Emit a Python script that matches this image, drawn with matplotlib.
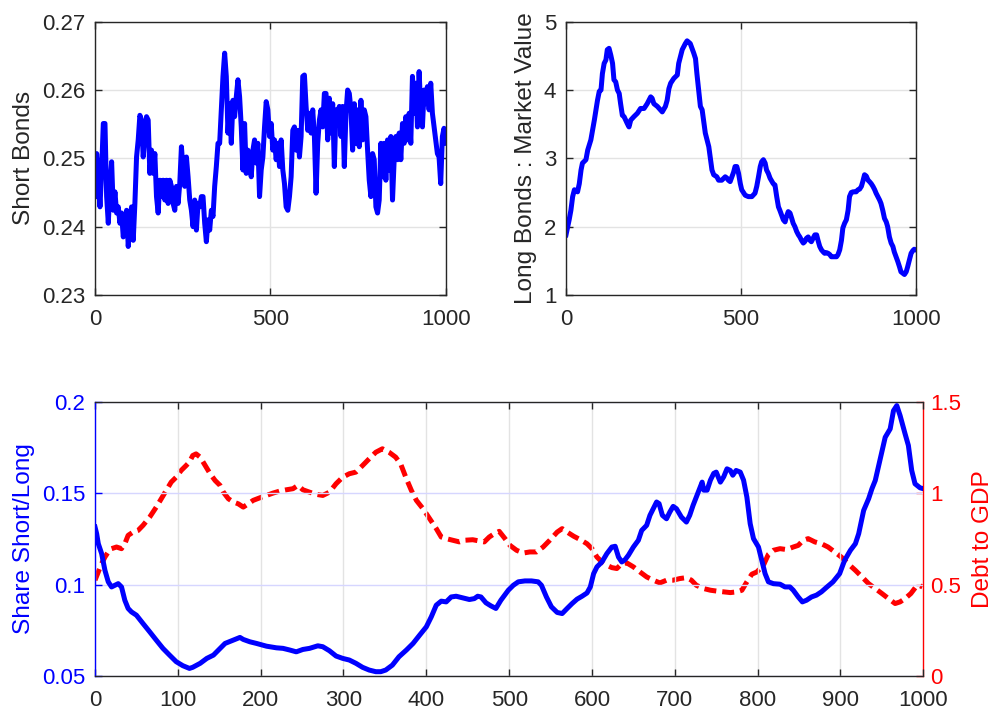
import numpy as np
import matplotlib
matplotlib.use("Agg")
import matplotlib.pyplot as plt

plt.rcParams['font.family'] = ['Liberation Sans', 'DejaVu Sans']

# ---------------- data ----------------
short_bonds = [
    0.2444, 0.2507, 0.2473, 0.2429, 0.2483, 0.2551, 0.2551, 0.2444, 0.2405, 0.2459,
    0.2495, 0.2424, 0.2451, 0.2420, 0.2429, 0.2405, 0.2420, 0.2385, 0.2400, 0.2424,
    0.2371, 0.2405, 0.2429, 0.2380, 0.2434, 0.2502, 0.2527, 0.2563, 0.2556, 0.2502,
    0.2532, 0.2561, 0.2556, 0.2478, 0.2512, 0.2478, 0.2507, 0.2444, 0.2420, 0.2468,
    0.2444, 0.2468, 0.2439, 0.2468, 0.2434, 0.2468, 0.2459, 0.2434, 0.2424, 0.2459,
    0.2434, 0.2463, 0.2517, 0.2483, 0.2459, 0.2502, 0.2473, 0.2439, 0.2424, 0.2400,
    0.2439, 0.2395, 0.2434, 0.2429, 0.2444, 0.2444, 0.2405, 0.2378, 0.2410, 0.2395,
    0.2424, 0.2415, 0.2459, 0.2488, 0.2522, 0.2522, 0.2571, 0.2620, 0.2654, 0.2620,
    0.2537, 0.2580, 0.2522, 0.2585, 0.2561, 0.2590, 0.2615, 0.2590, 0.2546, 0.2483,
    0.2551, 0.2478, 0.2512, 0.2493, 0.2473, 0.2512, 0.2527, 0.2493, 0.2522, 0.2444,
    0.2483, 0.2502, 0.2546, 0.2583, 0.2571, 0.2532, 0.2551, 0.2512, 0.2527, 0.2498,
    0.2522, 0.2488, 0.2527, 0.2483, 0.2463, 0.2429, 0.2424, 0.2444, 0.2473, 0.2541,
    0.2546, 0.2512, 0.2541, 0.2502, 0.2532, 0.2620, 0.2622, 0.2576, 0.2541, 0.2566,
    0.2537, 0.2571, 0.2532, 0.2449, 0.2522, 0.2556, 0.2571, 0.2546, 0.2595, 0.2595,
    0.2527, 0.2588, 0.2537, 0.2580, 0.2488, 0.2571, 0.2556, 0.2576, 0.2532, 0.2576,
    0.2488, 0.2566, 0.2600, 0.2595, 0.2571, 0.2512, 0.2580, 0.2522, 0.2571, 0.2517,
    0.2585, 0.2527, 0.2571, 0.2561, 0.2512, 0.2468, 0.2444, 0.2507, 0.2498, 0.2429,
    0.2420, 0.2439, 0.2522, 0.2473, 0.2522, 0.2468, 0.2527, 0.2483, 0.2532, 0.2439,
    0.2498, 0.2532, 0.2498, 0.2537, 0.2498, 0.2551, 0.2522, 0.2561, 0.2527, 0.2566,
    0.2522, 0.2620, 0.2566, 0.2610, 0.2546, 0.2627, 0.2571, 0.2546, 0.2600, 0.2580,
    0.2605, 0.2571, 0.2610, 0.2566, 0.2546, 0.2527, 0.2507, 0.2502, 0.2463, 0.2532,
    0.2544, 0.2522,
]
short_t = np.linspace(0, 1000, len(short_bonds))

long_t = [
    0, 9, 14, 19, 24, 33, 38, 43, 47, 57, 62, 71, 81, 90, 95, 100, 104, 109, 114, 118,
    123, 128, 133, 137, 142, 147, 152, 156, 161, 166, 175, 180, 185, 194, 204, 213, 223,
    232, 242, 246, 251, 261, 270, 275, 284, 289, 294, 299, 308, 318, 322, 327, 332, 341,
    346, 355, 360, 365, 370, 374, 379, 384, 389, 393, 398, 403, 408, 412, 417, 422, 431,
    436, 445, 455, 460, 464, 469, 474, 479, 483, 488, 493, 498, 502, 512, 521, 531, 540,
    545, 550, 555, 559, 564, 569, 573, 578, 583, 592, 597, 602, 607, 611, 616, 621, 626,
    630, 635, 640, 645, 649, 654, 659, 664, 668, 673, 678, 682, 687, 692, 697, 701, 706,
    711, 716, 720, 725, 730, 735, 739, 744, 749, 754, 758, 763, 768, 773, 777, 782, 787,
    791, 796, 801, 806, 810, 815, 820, 825, 829, 834, 839, 844, 848, 853, 858, 863, 867,
    872, 877, 882, 886, 891, 896, 900, 905, 910, 915, 919, 924, 929, 934, 938, 943, 948,
    953, 957, 962, 967, 972, 976, 981, 986, 991, 995, 1000,
]
long_bonds = [
    1.88, 2.10, 2.24, 2.44, 2.54, 2.51, 2.63, 2.83, 2.93, 2.98, 3.12, 3.27, 3.56, 3.85,
    3.98, 4.00, 4.24, 4.39, 4.44, 4.59, 4.61, 4.51, 4.39, 4.15, 4.12, 4.00, 3.95, 3.80,
    3.63, 3.61, 3.51, 3.46, 3.56, 3.61, 3.66, 3.73, 3.73, 3.80, 3.90, 3.88, 3.80, 3.76,
    3.71, 3.68, 3.76, 3.85, 4.02, 4.10, 4.17, 4.22, 4.39, 4.49, 4.59, 4.68, 4.72, 4.68,
    4.61, 4.54, 4.46, 4.24, 4.00, 3.76, 3.71, 3.56, 3.37, 3.27, 3.17, 3.02, 2.83, 2.76,
    2.73, 2.68, 2.68, 2.73, 2.71, 2.68, 2.66, 2.73, 2.80, 2.88, 2.88, 2.78, 2.63, 2.54,
    2.46, 2.44, 2.44, 2.49, 2.59, 2.73, 2.88, 2.95, 2.98, 2.93, 2.83, 2.78, 2.71, 2.63,
    2.61, 2.44, 2.29, 2.24, 2.17, 2.10, 2.07, 2.15, 2.22, 2.20, 2.12, 2.05, 2.00, 1.93,
    1.88, 1.85, 1.80, 1.76, 1.78, 1.83, 1.85, 1.80, 1.78, 1.83, 1.88, 1.88, 1.80, 1.71,
    1.66, 1.63, 1.61, 1.62, 1.61, 1.59, 1.56, 1.56, 1.56, 1.56, 1.59, 1.66, 1.80, 1.98,
    2.05, 2.10, 2.24, 2.44, 2.50, 2.51, 2.51, 2.51, 2.54, 2.55, 2.59, 2.66, 2.76, 2.74,
    2.68, 2.66, 2.63, 2.59, 2.54, 2.49, 2.44, 2.39, 2.34, 2.24, 2.12, 2.07, 2.00, 1.85,
    1.76, 1.71, 1.63, 1.56, 1.49, 1.41, 1.34, 1.32, 1.30, 1.34, 1.41, 1.51, 1.61, 1.65,
    1.67, 1.66,
]

share_t = [
    0, 2, 4, 8, 12, 16, 20, 24, 28, 32, 36, 40, 44, 50, 58, 66, 74, 82, 90, 98, 106,
    114, 118, 127, 135, 143, 151, 157, 167, 175, 179, 187, 195, 207, 219, 227, 235, 243,
    251, 259, 269, 275, 283, 291, 299, 307, 315, 323, 331, 339, 345, 351, 359, 367, 376,
    384, 392, 400, 406, 412, 418, 424, 430, 436, 444, 452, 458, 462, 466, 472, 478, 484,
    490, 499, 505, 511, 519, 527, 535, 539, 545, 551, 558, 564, 570, 576, 582, 588, 594,
    598, 602, 606, 612, 618, 624, 628, 632, 636, 640, 644, 650, 656, 660, 666, 670, 674,
    678, 681, 685, 690, 694, 698, 702, 708, 714, 718, 722, 726, 730, 733, 735, 739, 743,
    747, 750, 755, 759, 763, 767, 770, 774, 779, 783, 787, 791, 795, 801, 805, 809, 813,
    819, 827, 833, 839, 843, 849, 854, 859, 865, 871, 877, 883, 891, 899, 905, 912, 918,
    922, 928, 934, 938, 942, 948, 954, 960, 964, 968, 972, 978, 982, 986, 990, 996, 1000,
]
share_short_long = [
    0.1316, 0.1279, 0.1224, 0.1170, 0.1078, 0.1015, 0.0987, 0.0996, 0.1005, 0.0987,
    0.0914, 0.0869, 0.0850, 0.0832, 0.0786, 0.0741, 0.0695, 0.0650, 0.0613, 0.0577,
    0.0555, 0.0540, 0.0546, 0.0568, 0.0595, 0.0613, 0.0650, 0.0677, 0.0695, 0.0710,
    0.0699, 0.0686, 0.0677, 0.0662, 0.0653, 0.0650, 0.0641, 0.0631, 0.0644, 0.0650,
    0.0664, 0.0659, 0.0637, 0.0608, 0.0595, 0.0586, 0.0568, 0.0546, 0.0531, 0.0522,
    0.0522, 0.0531, 0.0558, 0.0604, 0.0641, 0.0677, 0.0723, 0.0768, 0.0823, 0.0887,
    0.0909, 0.0905, 0.0932, 0.0936, 0.0927, 0.0918, 0.0923, 0.0936, 0.0932, 0.0900,
    0.0883, 0.0869, 0.0914, 0.0969, 0.0996, 0.1015, 0.1020, 0.1020, 0.1015, 0.0996,
    0.0932, 0.0878, 0.0847, 0.0841, 0.0869, 0.0896, 0.0920, 0.0936, 0.0954, 0.0987,
    0.1060, 0.1097, 0.1124, 0.1170, 0.1206, 0.1210, 0.1151, 0.1124, 0.1137, 0.1161,
    0.1206, 0.1243, 0.1297, 0.1325, 0.1380, 0.1416, 0.1453, 0.1444, 0.1380, 0.1361,
    0.1398, 0.1429, 0.1416, 0.1370, 0.1343, 0.1380, 0.1434, 0.1480, 0.1527, 0.1562,
    0.1518, 0.1518, 0.1573, 0.1610, 0.1617, 0.1562, 0.1591, 0.1635, 0.1626, 0.1600,
    0.1626, 0.1617, 0.1573, 0.1480, 0.1334, 0.1252, 0.1206, 0.1133, 0.1060, 0.1015,
    0.1005, 0.1002, 0.0987, 0.0987, 0.0969, 0.0932, 0.0905, 0.0914, 0.0932, 0.0942,
    0.0960, 0.0984, 0.1015, 0.1060, 0.1133, 0.1188, 0.1224, 0.1279, 0.1407, 0.1471,
    0.1526, 0.1571, 0.1690, 0.1808, 0.1854, 0.1954, 0.1982, 0.1927, 0.1827, 0.1763,
    0.1626, 0.1553, 0.1531, 0.1526,
]

debt_t = [
    0, 4, 8, 12, 16, 20, 26, 32, 36, 40, 46, 52, 58, 66, 74, 80, 86, 92, 98, 104, 110,
    114, 118, 122, 127, 133, 139, 145, 151, 155, 161, 167, 173, 179, 185, 191, 199, 207,
    215, 223, 231, 239, 245, 251, 259, 267, 275, 283, 291, 299, 307, 315, 323, 331, 339,
    347, 355, 363, 369, 376, 382, 388, 396, 404, 412, 418, 424, 432, 440, 446, 456, 464,
    470, 476, 482, 488, 495, 501, 509, 517, 525, 533, 541, 549, 558, 564, 570, 578, 586,
    594, 600, 606, 612, 618, 624, 630, 636, 642, 650, 658, 666, 674, 682, 690, 698, 706,
    714, 720, 726, 735, 743, 751, 759, 767, 775, 781, 787, 793, 799, 807, 813, 819, 827,
    835, 843, 849, 855, 861, 869, 877, 885, 893, 901, 909, 918, 926, 934, 942, 950, 958,
    966, 972, 978, 985, 991, 995, 999,
]
debt_to_gdp = [
    0.524, 0.569, 0.615, 0.651, 0.679, 0.697, 0.706, 0.697, 0.724, 0.770, 0.788, 0.797,
    0.825, 0.870, 0.925, 0.971, 1.016, 1.062, 1.089, 1.126, 1.153, 1.172, 1.208, 1.217,
    1.199, 1.153, 1.108, 1.071, 1.044, 1.007, 0.971, 0.953, 0.943, 0.925, 0.943, 0.962,
    0.976, 0.989, 1.002, 1.013, 1.020, 1.026, 1.044, 1.020, 1.007, 0.995, 0.989, 1.007,
    1.053, 1.089, 1.108, 1.117, 1.153, 1.190, 1.226, 1.245, 1.226, 1.199, 1.162, 1.080,
    1.016, 0.962, 0.916, 0.861, 0.807, 0.761, 0.752, 0.743, 0.734, 0.743, 0.746, 0.739,
    0.734, 0.761, 0.779, 0.792, 0.752, 0.715, 0.688, 0.673, 0.679, 0.679, 0.706, 0.743,
    0.788, 0.807, 0.788, 0.765, 0.746, 0.724, 0.697, 0.651, 0.624, 0.606, 0.593, 0.588,
    0.615, 0.619, 0.597, 0.569, 0.542, 0.524, 0.509, 0.524, 0.524, 0.533, 0.538, 0.524,
    0.496, 0.478, 0.469, 0.464, 0.460, 0.456, 0.460, 0.469, 0.515, 0.557, 0.569, 0.606,
    0.666, 0.688, 0.697, 0.692, 0.706, 0.715, 0.743, 0.752, 0.734, 0.724, 0.706, 0.679,
    0.651, 0.615, 0.578, 0.542, 0.505, 0.478, 0.451, 0.423, 0.396, 0.405, 0.423, 0.451,
    0.487, 0.496, 0.487,
]

# ---------------- styling ----------------
W, H = 995, 713
fig = plt.figure(figsize=(W / 100, H / 100), dpi=100)
TXT = '#262626'
GRID = '#e3e3e3'
FS = 16
LFS = 17.6
LW = 3.6
XPAD = 10
YPAD = 7


def style_axes(ax, grid_color=GRID):
    for s in ax.spines.values():
        s.set_color(TXT)
        s.set_linewidth(1.0)
    ax.tick_params(direction='in', length=5, width=1, colors=TXT, labelsize=FS,
                   top=True, right=True)
    ax.tick_params(axis='x', pad=XPAD)
    ax.tick_params(axis='y', pad=YPAD)
    ax.grid(True, color=grid_color, linewidth=1.0)
    ax.set_axisbelow(True)


def box(l, t, r, b):
    return [l / W, 1 - b / H, (r - l) / W, (b - t) / H]


# top-left
ax1 = fig.add_axes(box(95, 21.7, 445.7, 295))
style_axes(ax1)
ax1.plot(short_t, short_bonds, color='#0000ff', linewidth=LW, solid_joinstyle='round')
ax1.set_xlim(0, 1000)
ax1.set_ylim(0.23, 0.27)
ax1.set_xticks([0, 500, 1000])
ax1.set_yticks([0.23, 0.24, 0.25, 0.26, 0.27])
ax1.set_yticklabels(['0.23', '0.24', '0.25', '0.26', '0.27'])
ax1.set_ylabel('Short Bonds', fontsize=LFS, color=TXT, labelpad=5)

# top-right
ax2 = fig.add_axes(box(566, 21.7, 916, 295))
style_axes(ax2)
ax2.plot(long_t, long_bonds, color='#0000ff', linewidth=LW, solid_joinstyle='round')
ax2.set_xlim(0, 1000)
ax2.set_ylim(1, 5)
ax2.set_xticks([0, 500, 1000])
ax2.set_yticks([1, 2, 3, 4, 5])
ax2.set_ylabel('Long Bonds : Market Value', fontsize=LFS, color=TXT, labelpad=5)

# bottom
ax3 = fig.add_axes(box(95, 402.3, 923.3, 675.7))
for s in ax3.spines.values():
    s.set_color(TXT)
    s.set_linewidth(1.0)
ax3.spines['left'].set_color('#0000ff')
ax3.spines['right'].set_visible(False)
ax3.tick_params(axis='x', direction='in', length=5, width=1, colors=TXT,
                labelsize=FS, top=True, pad=XPAD)
ax3.tick_params(axis='y', direction='in', length=5, width=1, colors='#0000ff',
                labelsize=FS, right=False, pad=YPAD)
ax3.xaxis.grid(True, color=GRID, linewidth=1.0)
ax3.yaxis.grid(True, color='#d6d6ff', linewidth=1.0)
ax3.set_axisbelow(True)
ax3.plot(share_t, share_short_long, color='#0000ff', linewidth=LW,
         solid_joinstyle='round', zorder=3)
ax3.set_xlim(0, 1000)
ax3.set_ylim(0.05, 0.2)
ax3.set_xticks(np.arange(0, 1001, 100))
ax3.set_yticks([0.05, 0.1, 0.15, 0.2])
ax3.set_yticklabels(['0.05', '0.1', '0.15', '0.2'])
ax3.set_ylabel('Share Short/Long', fontsize=LFS, color='#0000ff', labelpad=5)

ax4 = ax3.twinx()
ax4.set_position(ax3.get_position())
for side in ('left', 'top', 'bottom'):
    ax4.spines[side].set_visible(False)
ax4.spines['right'].set_color('#ff0000')
ax4.spines['right'].set_linewidth(1.0)
ax4.tick_params(axis='y', direction='in', length=5, width=1, colors='#ff0000',
                labelsize=FS, pad=5)
ax4.plot(debt_t, debt_to_gdp, color='#ff0000', linewidth=LW,
         linestyle=(0, (2.4, 1.2)), zorder=2)
ax4.set_ylim(0, 1.5)
ax4.set_yticks([0, 0.5, 1, 1.5])
ax4.set_yticklabels(['0', '0.5', '1', '1.5'])
ax4.set_ylabel('Debt to GDP', fontsize=LFS, color='#ff0000', labelpad=8)
# keep blue line above red
ax3.set_zorder(ax4.get_zorder() + 1)
ax3.patch.set_visible(False)

fig.savefig('out.png', dpi=100)
